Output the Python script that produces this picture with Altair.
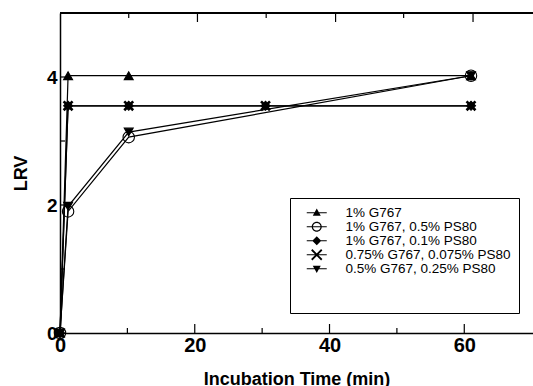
import altair as alt
import pandas as pd

series = ["1% G767", "1% G767, 0.5% PS80", "1% G767, 0.1% PS80",
          "0.75% G767, 0.075% PS80", "0.5% G767, 0.25% PS80"]
time_a = [0, 1.2, 10.2, 61]
lrv_a = [0, 4.02, 4.02, 4.02]
time_b = [0, 1.2, 10.2, 61]
lrv_b = [0, 1.9, 3.06, 4.02]
time_c = [0, 1.2, 10.2, 30.5, 61]
lrv_c = [0, 3.55, 3.55, 3.55, 3.55]
time_d = [0, 1.2, 10.2, 30.5, 61]
lrv_d = [0, 3.55, 3.55, 3.55, 3.55]
time_e = [0, 1.2, 10.2, 61]
lrv_e = [0, 1.98, 3.14, 4.02]

x_labels = [0, 20, 40, 60]
y_labels = [0, 2, 4]
x_ticks_major = [20, 40, 60]
x_ticks_minor = [10, 30, 50]
top_ticks_major = [20.4, 40.9, 61.3]
top_ticks_minor = [10.2, 30.6, 51.0]
y_ticks_major = [2, 4]
y_ticks_minor = [1, 3]

rows = []
for name, ts, vs in zip(series, [time_a, time_b, time_c, time_d, time_e],
                        [lrv_a, lrv_b, lrv_c, lrv_d, lrv_e]):
    for t, v in zip(ts, vs):
        rows.append({"series": name, "time": t, "lrv": v})
df = pd.DataFrame(rows)

W, H = 473, 320
FONT = "Liberation Sans"

x_enc = alt.X("time:Q", scale=alt.Scale(domain=[0, 70.2], nice=False, zero=False),
              axis=alt.Axis(values=x_labels, labelFontSize=20, labelPadding=2,
                            titlePadding=15, labelFlush=False),
              title="Incubation Time (min)")
y_enc = alt.Y("lrv:Q", scale=alt.Scale(domain=[0, 5], nice=False),
              axis=alt.Axis(values=y_labels, labelFontSize=19, labelPadding=3,
                            titlePadding=16, labelFlush=False),
              title="LRV")

plot_shapes = ["triangle-up", "circle", "diamond", "M-1,-1L1,1M-1,1L1,-1", "triangle-down"]
fills = ["black", "transparent", "black", "black", "black"]

# legend glyphs: line segment + marker, all drawn as filled outlines
BAR = "M0.4,-0.12H4.4V0.12H0.4Z"
legend_paths = [
    BAR + "M2.4,-0.84L3.2,0.6L1.6,0.6Z",
    BAR + "M3.4,0A1,1 0 1,1 1.4,0A1,1 0 1,1 3.4,0Z"
          "M3.16,0A0.76,0.76 0 1,0 1.64,0A0.76,0.76 0 1,0 3.16,0Z",
    BAR + "M2.4,-0.9L3.3,0L2.4,0.9L1.5,0Z",
    BAR + "M1.527,-1.127L3.527,0.873L3.273,1.127L1.273,-0.873Z"
          "M1.273,0.873L3.273,-1.127L3.527,-0.873L1.527,1.127Z",
    BAR + "M1.6,-0.6L3.2,-0.6L2.4,0.84Z",
]

lines = alt.Chart(df).mark_line(color="black", strokeWidth=1.2).encode(
    x=x_enc, y=y_enc, detail="series:N")

points = alt.Chart(df).mark_point(stroke="black", opacity=1, fillOpacity=1).encode(
    x=x_enc, y=y_enc,
    shape=alt.Shape("series:N", scale=alt.Scale(domain=series, range=plot_shapes), legend=None),
    fill=alt.Fill("series:N", scale=alt.Scale(domain=series, range=fills), legend=None),
    size=alt.condition(f"datum.series === '{series[1]}'", alt.value(130), alt.value(80)),
    strokeWidth=alt.condition(f"datum.series === '{series[3]}'", alt.value(2.6), alt.value(1.1)),
)

leg = alt.Legend(title="\u2003" * 11, orient="none", legendX=230, legendY=185,
                 titleOrient="bottom", titleFontSize=20.5, titlePadding=9, titleLimit=400,
                 labelLimit=300,
                 symbolFillColor="black", symbolStrokeWidth=0, symbolOpacity=1)
legend_layer = alt.Chart(df).transform_filter("datum.lrv < 0").mark_point(
    filled=True, color="black", opacity=1, size=100).encode(
    x=x_enc, y=y_enc,
    shape=alt.Shape("series:N", scale=alt.Scale(domain=series, range=legend_paths), legend=leg),
)

def xticks(vals, ln, top):
    d = pd.DataFrame({"time": vals})
    if top:
        return alt.Chart(d).mark_rule(color="black", strokeWidth=1.2).encode(
            x=x_enc, y=alt.value(0), y2=alt.value(ln))
    return alt.Chart(d).mark_rule(color="black", strokeWidth=1.2).encode(
        x=x_enc, y=alt.value(H), y2=alt.value(H - ln))

def yticks(vals, ln):
    d = pd.DataFrame({"lrv": vals})
    return alt.Chart(d).mark_rule(color="black", strokeWidth=1.2).encode(
        y=y_enc, x=alt.value(0), x2=alt.value(ln))

top_frame = alt.Chart(df).mark_rule(color="black", strokeWidth=1.5).encode(y=alt.value(0))

chart = alt.layer(
    lines, points, legend_layer, top_frame,
    xticks(x_ticks_major, 9, False), xticks(x_ticks_minor, 5, False),
    xticks(top_ticks_major, 9, True), xticks(top_ticks_minor, 5, True),
    yticks(y_ticks_major, 9), yticks(y_ticks_minor, 5),
).resolve_scale(shape="independent").properties(
    width=W, height=H,
    padding={"left": 60, "top": 13, "right": 0, "bottom": 53},
    autosize=alt.AutoSizeParams(type="none"),
).configure_view(stroke="transparent", strokeWidth=0).configure_axis(
    grid=False, domain=True, domainColor="black", domainWidth=1.5, ticks=False,
    labelFont=FONT, labelFontWeight="bold", labelColor="black",
    titleFont=FONT, titleFontWeight="bold", titleFontSize=18, titleColor="black",
).configure_legend(
    strokeColor="black", fillColor="white", padding=8,
    labelFont=FONT, labelFontSize=13.5, labelColor="black",
    symbolSize=100, labelOffset=34, rowPadding=-1.5, strokeWidth=1,
)

chart.save("out.html", embed_options={"renderer": "svg", "actions": False})
